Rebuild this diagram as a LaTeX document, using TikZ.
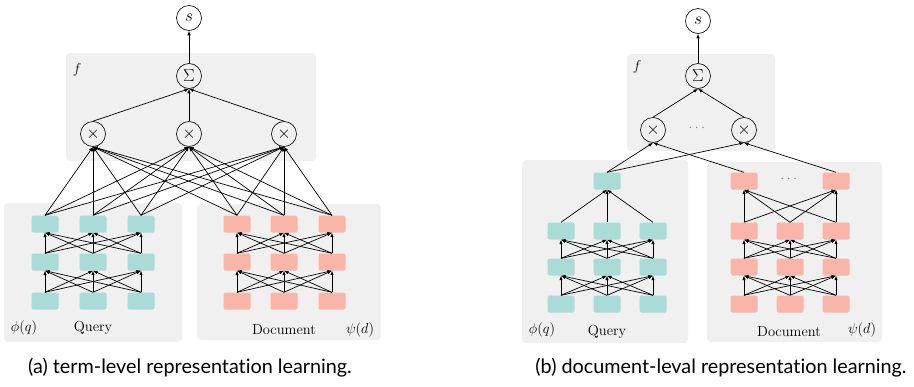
\documentclass[tikz,border=0pt]{standalone}
\usepackage{amsmath,amssymb}
\usepackage{fontspec}
\newfontfamily\capfont[Ligatures=NoCommon]{Lato}
\usepackage{tikz}
\usetikzlibrary{arrows.meta}
\definecolor{qcol}{HTML}{A9DCD6}
\definecolor{dcol}{HTML}{F9B6A8}
\definecolor{panelgray}{HTML}{F0F0F0}
\tikzstyle{panel}=[fill=panelgray, rounded corners=4pt]
\tikzstyle{op}=[draw, circle, line width=0.6pt, minimum size=25pt, inner sep=0pt, font=\fontsize{16}{18}\selectfont]
\tikzstyle{qsq}=[fill=qcol, rounded corners=1.5pt, minimum width=27pt, minimum height=17pt, inner sep=0pt]
\tikzstyle{dsq}=[fill=dcol, rounded corners=1.5pt, minimum width=27pt, minimum height=17pt, inner sep=0pt]
\tikzstyle{arr}=[-{Latex[length=4.5pt,width=3.5pt]}, line width=0.7pt]
\tikzstyle{lbl}=[font=\fontsize{14.5}{16}\selectfont, inner sep=0pt]
\tikzstyle{capt}=[font=\capfont\fontsize{19.8}{22}\selectfont, inner sep=0pt]

\begin{document}
\begin{tikzpicture}[x=1pt,y=-1pt]
\useasboundingbox (0,0) rectangle (914,386);

% (a) term-level
\fill[panel] (66,53) rectangle (316,161);
\fill[panel] (4,203) rectangle (182,342);
\fill[panel] (197,204) rectangle (381,340);
\foreach \i/\xq/\xd in {1/45/237,2/93/284,3/141/332} {
	\foreach \j/\y in {1/301,2/262,3/224} {
		\node[qsq] (aq\i\j) at (\xq,\y) {};
		\node[dsq] (ad\i\j) at (\xd,\y) {};
	}
}
\node[op] (as) at (189,18) {$s$};
\node[op] (asum) at (189,76) {$\Sigma$};
\foreach \m/\x in {1/93,2/189,3/284}
	\node[op] (ax\m) at (\x,134) {$\times$};
\foreach \j/\k in {1/2,2/3} {
	\foreach \i in {1,2,3} {
		\foreach \m in {1,2,3} {
			\draw[arr] (aq\i\j.north) -- (aq\m\k.south);
			\draw[arr] (ad\i\j.north) -- (ad\m\k.south);
		}
	}
}
\foreach \i in {1,2,3} {
	\foreach \m in {1,2,3} {
		\draw[arr] (aq\i3.north) -- (ax\m.south);
		\draw[arr] (ad\i3.north) -- (ax\m.south);
	}
}
\foreach \m in {1,2,3}
	\draw[arr] (ax\m.north) -- (asum.south);
\draw[arr] (asum) -- (as);
\node[lbl] (af) at (77,70) {$f$};
\node[lbl] (aphi) at (24,328) {$\phi(q)$};
\node[lbl] (aquery) at (93,328) {Query};
\node[lbl] (adoc) at (284,330) {Document};
\node[lbl] (apsi) at (360,330) {$\psi(d)$};
\node[capt] (acap) at (190,368) {(a) term-level representation learning.};

% (b) document-level
\fill[panel] (627,54) rectangle (775,151);
\fill[panel] (522,160) rectangle (688,343);
\fill[panel] (707,162) rectangle (882,342);
\foreach \i/\xq/\xd in {1/561/744,2/607/790,3/653/836} {
	\foreach \j/\y in {1/304,2/267,3/231} {
		\node[qsq] (bq\i\j) at (\xq,\y) {};
		\node[dsq] (bd\i\j) at (\xd,\y) {};
	}
}
\node[qsq] (bqtop) at (607,181) {};
\node[dsq] (bdtop1) at (744,181) {};
\node[dsq] (bdtop2) at (836,181) {};
\node[lbl, gray] (bddots) at (790,179) {$\cdots$};
\node[op] (bs) at (698,21) {$s$};
\node[op] (bsum) at (698,76) {$\Sigma$};
\node[op] (bx1) at (653,130) {$\times$};
\node[op] (bx2) at (744,130) {$\times$};
\node[lbl, gray] (bxdots) at (698,128) {$\cdots$};
\foreach \j/\k in {1/2,2/3} {
	\foreach \i in {1,2,3} {
		\foreach \m in {1,2,3} {
			\draw[arr] (bq\i\j.north) -- (bq\m\k.south);
			\draw[arr] (bd\i\j.north) -- (bd\m\k.south);
		}
	}
}
\foreach \i in {1,2,3} {
	\draw[arr] (bq\i3.north) -- (bqtop.south);
	\draw[arr] (bd\i3.north) -- (bdtop1.south);
	\draw[arr] (bd\i3.north) -- (bdtop2.south);
}
\draw[arr] (bqtop.north) -- (bx1.south);
\draw[arr] (bqtop.north) -- (bx2.south);
\draw[arr] (bdtop1.north) -- (bx1.south);
\draw[arr] (bdtop2.north) -- (bx2.south);
\draw[arr] (bx1.north) -- (bsum.south);
\draw[arr] (bx2.north) -- (bsum.south);
\draw[arr] (bsum) -- (bs);
\node[lbl] (bf) at (637,67) {$f$};
\node[lbl] (bphi) at (542,330) {$\phi(q)$};
\node[lbl] (bquery) at (607,332) {Query};
\node[lbl] (bdoc) at (789,332) {Document};
\node[lbl] (bpsi) at (862,330) {$\psi(d)$};
\node[capt] (bcap) at (721,368) {(b) document-leval representation learning.};
\end{tikzpicture}
\end{document}
